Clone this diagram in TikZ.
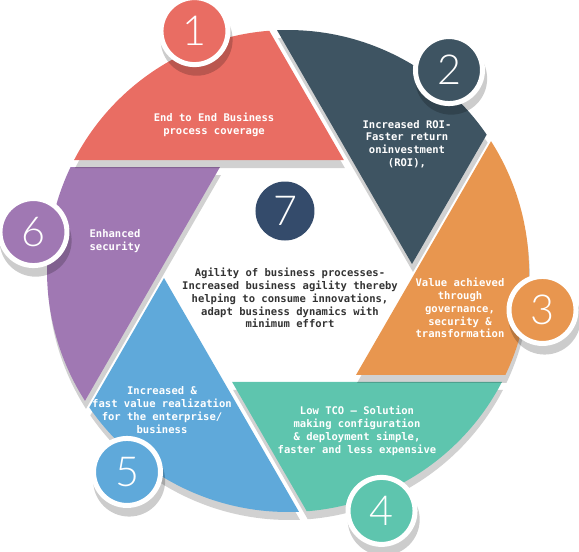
\documentclass[tikz,border=0pt]{standalone}
\usepackage{fontspec}
\setmonofont{DejaVu Sans Mono}
\newfontfamily\numfont{Lato Light}
\usetikzlibrary{shadows}

\definecolor{cred}{HTML}{E96D63}
\definecolor{cdark}{HTML}{3E5462}
\definecolor{corange}{HTML}{E8964F}
\definecolor{cteal}{HTML}{5EC5AE}
\definecolor{cblue}{HTML}{5FA9DA}
\definecolor{cpurple}{HTML}{A078B3}
\definecolor{cnavy}{HTML}{344B6B}
\definecolor{ctext}{HTML}{333333}

% one blade of the aperture, #1 = angle of its inner corner
\newcommand\blade[1]{(#1+3.23:124.2) -- (#1+34.47:241)
  arc[start angle=#1+34.47, end angle=#1+92.6, radius=241] -- cycle}

\begin{document}
\begin{tikzpicture}[x=0.75pt, y=0.75pt,
    txt/.style={text=white, align=center,
      font=\ttfamily\bfseries\fontsize{7.9}{9.6}\selectfont},
    num/.style={circle, fill=#1, draw=white, line width=3.75pt,
      minimum size=50.25pt, inner sep=0pt, text=white,
      font=\numfont\fontsize{31}{31}\selectfont,
      drop shadow={shadow xshift=1.5pt, shadow yshift=-6pt,
        shadow scale=1.075, opacity=.2, fill=black, draw=none}},
    mid/.style={circle, fill=cnavy, minimum size=44.25pt, inner sep=0pt,
      text=white, font=\numfont\fontsize{31}{31}\selectfont}]
  \useasboundingbox (-288,-280) rectangle (291,271);

  % blades, each with its shadow
  \foreach \ang/\col in {240/cteal,180/cblue,120/cpurple,60/cred,-60/corange,0/cdark}{
    \fill[black, opacity=.18, shift={(1,-8)}] \blade{\ang};
    \fill[\col] \blade{\ang};
  }

  \node[num=cred]    (n1) at (111.3:257.5) {1};
  \node[num=cdark]   (n2) at (51.3:257.5)  {2};
  \node[num=corange] (n3) at (-8.7:257.5)  {3};
  \node[num=cteal]   (n4) at (-68.7:257.5) {4};
  \node[num=cblue]   (n5) at (-128.7:257.5) {5};
  \node[num=cpurple] (n6) at (171.3:257.5) {6};
  \node[mid]         (n7) at (-3,60)       {7};

  \node[txt] (t1) at (-74,146) {End to End Business\\process coverage};
  \node[txt] (t2) at (119,127) {Increased ROI-\\Faster return\\oninvestment\\(ROI),};
  \node[txt] (t3) at (172,-37) {Value achieved\\through\\governance,\\security \&\\transformation};
  \node[txt] (t4) at (69,-160) {Low TCO – Solution\\making configuration\\\& deployment simple,\\faster and less expensive};
  \node[txt] (t5) at (-126,-139) {Increased \&\\fast value realization\\for the enterprise/\\business};
  \node[txt] (t6) at (-173,30) {Enhanced\\security};
  \node[txt, text=ctext] (t7) at (2,-27) {Agility of business processes-\\Increased business agility thereby\\helping to consume innovations,\\adapt business dynamics with\\minimum effort};
\end{tikzpicture}
\end{document}
